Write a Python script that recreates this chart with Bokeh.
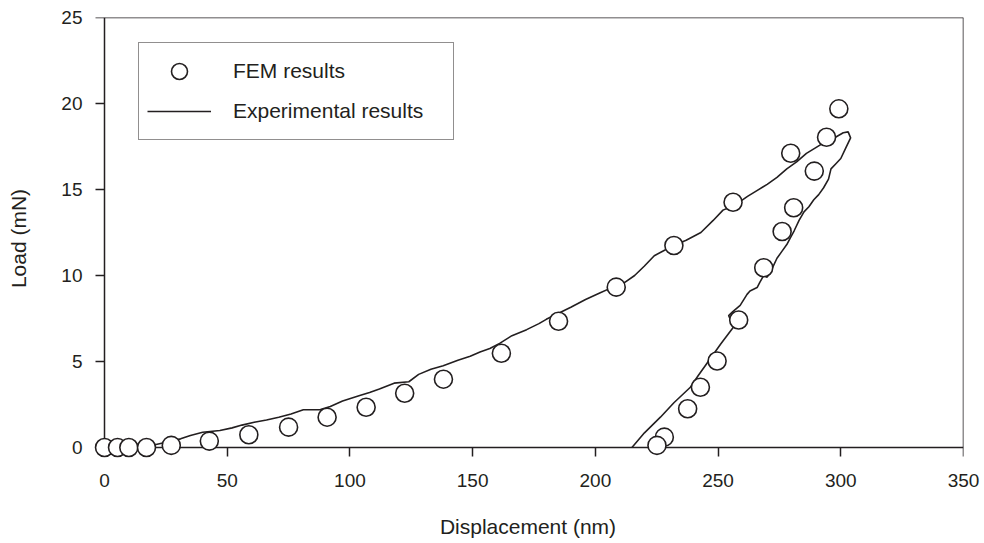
from bokeh.plotting import figure
from bokeh.models import Range1d, FixedTicker, Legend, LegendItem, LinearAxis
from bokeh.embed import file_html
from bokeh.resources import INLINE

# FEM results (displacement nm, load mN)
fem_x = [0, 5.3, 9.9, 17.1, 27.2, 42.7, 58.8, 75.0, 90.7, 106.6, 122.3, 138.1, 161.7,
         185.0, 208.5, 232.0, 256.1, 279.6, 294.2, 299.2,
         289.2, 280.8, 276.1, 268.6, 258.4, 249.6, 242.8, 237.6, 228.1, 225.1]
fem_y = [0, 0, 0, 0, 0.12, 0.37, 0.74, 1.18, 1.76, 2.34, 3.15, 3.97, 5.48,
         7.34, 9.32, 11.74, 14.26, 17.11, 18.04, 19.69,
         16.07, 13.94, 12.56, 10.45, 7.41, 5.03, 3.50, 2.25, 0.60, 0.12]

# Experimental results: loading branch then unloading branch
exp_load_x = [0, 8, 17, 21, 26, 31, 35, 40, 47, 52, 56, 61, 66, 71, 76, 81, 88, 92, 97,
              104, 108, 112, 118, 124, 128, 133, 138, 144, 149, 153, 157, 161, 166, 172,
              177, 180, 185, 190, 196, 202, 206, 212, 216, 220, 224, 228, 232, 237, 243,
              248, 252, 257, 262, 266, 270, 274, 278, 282, 286, 290, 294, 298, 301, 303]
exp_load_y = [0, 0.0, 0.03, 0.17, 0.33, 0.5, 0.7, 0.88, 0.99, 1.14, 1.3, 1.47, 1.6, 1.76,
              1.95, 2.19, 2.2, 2.38, 2.7, 3.02, 3.2, 3.4, 3.74, 3.82, 4.25, 4.55, 4.75,
              5.07, 5.3, 5.55, 5.75, 6.05, 6.5, 6.85, 7.2, 7.45, 7.8, 8.15, 8.6, 9.0, 9.25,
              9.6, 10.0, 10.55, 11.15, 11.45, 11.75, 12.05, 12.5, 13.2, 13.8, 14.1, 14.6,
              14.95, 15.3, 15.7, 16.2, 16.6, 17.1, 17.45, 17.8, 18.05, 18.3, 18.35]
exp_unload_x = [304, 302, 300, 298, 296, 295, 293, 291, 289, 287, 285, 283, 281, 279.5,
                278, 276, 274, 272, 270, 268.6, 267, 265.9, 263, 261.8, 259, 256, 254.3,
                256.3, 251, 246.8, 242, 238.7, 232, 226.5, 220, 214.9]
exp_unload_y = [18.0, 17.4, 16.8, 16.5, 16.2, 15.6, 15.1, 14.7, 14.4, 14.0, 13.7, 13.2,
                12.6, 12.2, 11.8, 11.4, 11.0, 10.4, 9.9, 10.0, 9.6, 9.3, 9.1, 8.9, 8.26,
                7.9, 7.67, 7.0, 6.0, 5.16, 4.2, 3.5, 2.6, 1.76, 0.85, 0.0]

x_ticks = [0, 50, 100, 150, 200, 250, 300, 350]
y_ticks = [0, 5, 10, 15, 20, 25]

INK = "#231f20"
FONT = "Liberation Sans"

# ranges extend a little below/left of zero so markers at 0 are not clipped;
# axis lines/ticks are pinned at 0 and bounded to the data box
p = figure(width=984, height=543, output_backend="svg", toolbar_location=None,
           x_range=Range1d(-4.9, 350), y_range=Range1d(-0.7, 25),
           min_border_left=92, min_border_right=21, min_border_top=17, min_border_bottom=84)
p.grid.visible = False
p.outline_line_color = None
p.background_fill_color = "white"
p.border_fill_color = "white"

# labelled axes (labels + titles only)
xa = p.below[0]
ya = p.left[0]
for ax, ticks in ((xa, x_ticks), (ya, y_ticks)):
    ax.ticker = FixedTicker(ticks=ticks)
    ax.axis_line_color = None
    ax.major_tick_line_color = None
    ax.minor_tick_line_color = None
    ax.major_tick_out = 0
    ax.major_tick_in = 0
    ax.major_label_text_font = FONT
    ax.major_label_text_font_size = "19px"
    ax.major_label_text_color = INK
    ax.axis_label_text_font = FONT
    ax.axis_label_text_font_size = "21px"
    ax.axis_label_text_font_style = "normal"
    ax.axis_label_text_color = INK
xa.axis_label = "Displacement (nm)"
ya.axis_label = "Load (mN)"
xa.major_label_standoff = 14
xa.axis_label_standoff = 25
ya.major_label_standoff = 10
ya.axis_label_standoff = 28

# line/tick axes forming the box
def line_axis(ticks, loc, bounds, tick_out):
    ax = LinearAxis(ticker=FixedTicker(ticks=ticks),
                    major_label_overrides={t: "" for t in ticks},
                    fixed_location=loc, bounds=bounds)
    ax.axis_line_color = INK
    ax.axis_line_width = 1.5
    ax.major_tick_line_color = INK
    ax.major_tick_line_width = 1.5
    ax.major_tick_out = tick_out
    ax.major_tick_in = 0
    ax.minor_tick_line_color = None
    ax.level = "underlay"
    return ax

p.add_layout(line_axis(x_ticks, 0, (0, 350), 9), "below")
p.add_layout(line_axis(y_ticks, 0, (0, 25), 9), "left")
p.add_layout(line_axis([], 25, (0, 350), 0), "above")
p.add_layout(line_axis([], 350, (0, 25), 0), "right")

line_r = p.line(exp_load_x + exp_unload_x, exp_load_y + exp_unload_y,
                line_color=INK, line_width=1.6)
circ_r = p.scatter(fem_x, fem_y, marker="circle", size=18, fill_color="white",
                   line_color=INK, line_width=1.6)

legend = Legend(items=[LegendItem(label="FEM results", renderers=[circ_r]),
                       LegendItem(label="Experimental results", renderers=[line_r])],
                location=(46, 319), padding=8, glyph_width=64, glyph_height=40,
                spacing=0, label_standoff=22, label_width=212,
                label_text_font=FONT, label_text_font_size="21px",
                label_text_color=INK, border_line_color=INK, border_line_width=1.2,
                background_fill_color="white", background_fill_alpha=1.0)
p.add_layout(legend, "center")

open("out.html", "w").write(file_html(p, INLINE))
